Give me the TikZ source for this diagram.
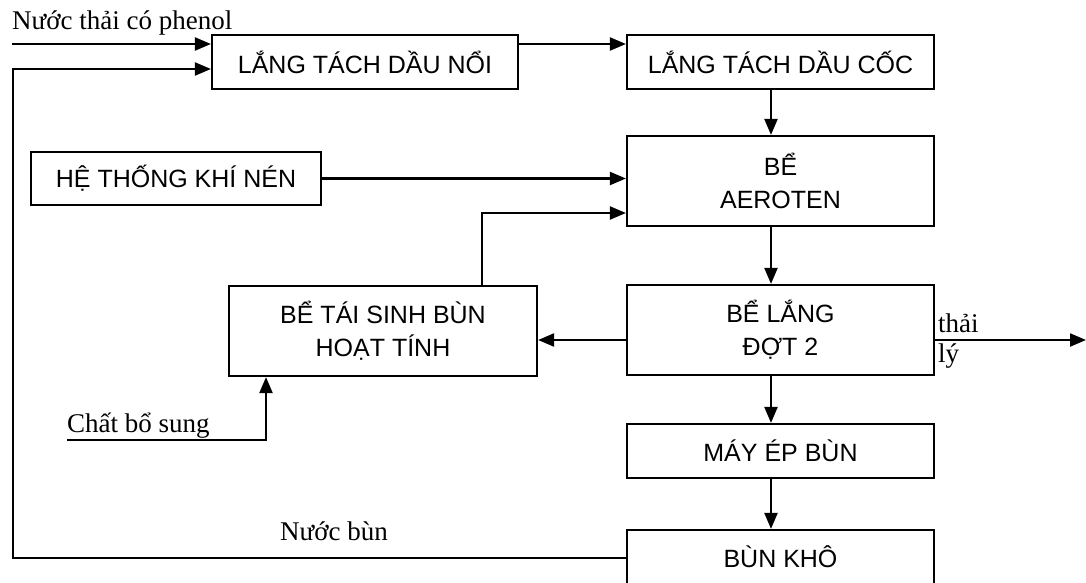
\documentclass[tikz,border=0pt]{standalone}
\usepackage{fontspec}
\setmainfont{Liberation Serif}
\newfontfamily\hopfont{Liberation Sans}
\usetikzlibrary{arrows.meta, positioning, calc}

\begin{document}
\begin{tikzpicture}[x=1pt, y=-1pt,
    khoi/.style={draw, line width=2.2pt, inner sep=0pt, align=center,
                 font=\hopfont\fontsize{25}{33}\selectfont},
    mui/.style={line width=2.2pt, -{Triangle[length=16pt, width=13pt]}},
    nhan/.style={inner sep=0pt, anchor=base west, font=\fontsize{27}{30}\selectfont}]
  \useasboundingbox (0,0) rectangle (1086,582);

  % cac be xu ly
  \node[khoi, minimum width=306pt, minimum height=54pt] (langnoi) at (365,62) {LẮNG TÁCH DẦU NỔI};
  \node[khoi, minimum width=307pt, minimum height=54pt] (langcoc) at (780.5,62) {LẮNG TÁCH DẦU CỐC};
  \node[khoi, minimum width=290pt, minimum height=53pt] (khinen) at (176,178.5) {HỆ THỐNG KHÍ NÉN};
  \node[khoi, minimum width=307pt, minimum height=90pt] (aeroten) at (780.5,181) {BỂ\\AEROTEN};
  \node[khoi, minimum width=308pt, minimum height=90pt] (taisinh) at (383,331) {BỂ TÁI SINH BÙN\\HOẠT TÍNH};
  \node[khoi, minimum width=307pt, minimum height=90pt] (langdot2) at (780.5,330) {BỂ LẮNG\\ĐỢT 2};
  \node[khoi, minimum width=307pt, minimum height=54pt] (mayep) at (780.5,451) {MÁY ÉP BÙN};
  \node[khoi, minimum width=307pt, minimum height=54pt] (bunkho) at (780.5,557) {BÙN KHÔ};

  % diem gay cua duong ong
  \coordinate (vao) at (12,44);
  \coordinate (goc) at (13,69);
  \coordinate (tra) at (13,558);
  \coordinate (cot) at (771,0);
  \coordinate (hoi) at (482,213);
  \coordinate (ra) at (1086,340);
  \coordinate (bosung) at (67,440);
  \coordinate (gocbs) at (266,440);

  % duong nuoc
  \draw[mui] (vao) -- (vao -| langnoi.west);
  \draw[mui] (bunkho.west |- tra) -- (tra) -- (goc) -- (goc -| langnoi.west);
  \draw[mui] (langnoi.east |- vao) -- (langcoc.west |- vao);
  \draw[mui] (cot |- langcoc.south) -- (cot |- aeroten.north);
  \draw[mui] (khinen.east) -- (khinen.east -| aeroten.west);
  \draw[mui] (hoi |- taisinh.north) -- (hoi) -- (hoi -| aeroten.west);
  \draw[mui] (cot |- aeroten.south) -- (cot |- langdot2.north);
  \draw[mui] (langdot2.west |- ra) -- (taisinh.east |- ra);
  \draw[mui] (langdot2.east |- ra) -- (ra);
  \draw[mui] (cot |- langdot2.south) -- (cot |- mayep.north);
  \draw[mui] (cot |- mayep.south) -- (cot |- bunkho.north);
  \draw[mui] (bosung) -- (gocbs) -- (gocbs |- taisinh.south);

  % nhan
  \node[nhan] (lbphenol) at (12,29) {Nước thải có phenol};
  \node[nhan] (lbbosung) at (67,432) {Chất bổ sung};
  \node[nhan] (lbnuocbun) at (280,540) {Nước bùn};
  \node[nhan] (lbthai) at (938,332) {thải};
  \node[nhan] (lbly) at (938,362) {lý};
\end{tikzpicture}
\end{document}
